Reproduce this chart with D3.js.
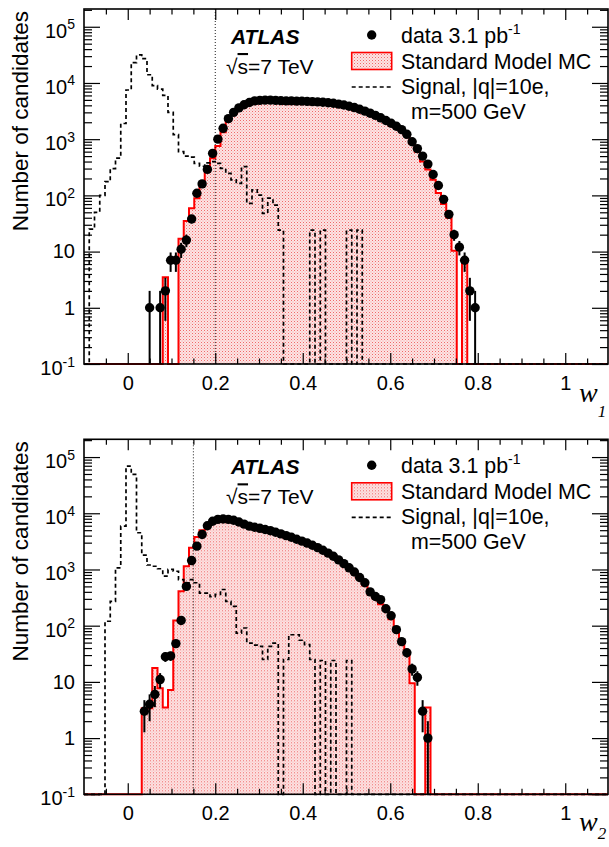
<!DOCTYPE html>
<html>
<head>
<meta charset="utf-8">
<script src="https://cdn.jsdelivr.net/npm/d3@7"></script>
<style>
  body { margin: 0; background: #fff; }
  svg { display: block; }
  text { font-family: "Liberation Sans", Arial, Helvetica, sans-serif; }
  text.wlabel { font-family: "Liberation Serif", "Times New Roman", serif; font-style: italic; }
</style>
</head>
<body>
<div id="chart"></div>
<script>
// binning shared by every histogram: 100 bins from -0.1 to 1.1
const binLow = -0.1, binWidth = 0.012, nBins = 100;

// upper panel, w1 (each array starts at the bin given by *Start)
const w1DataStart = 12;
const w1Data = [1, 0, 1, 2, 7, 7, 11, 16, 38, 109, 160, 290, 560, 1000, 1560, 2320, 3000, 3600,
  4100, 4500, 4800, 4900, 4950, 4950, 4900, 4850, 4800, 4800, 4750, 4750, 4700, 4650, 4600, 4550,
  4450, 4350, 4200, 4050, 3850, 3650, 3400, 3150, 2900, 2650, 2400, 2150, 1920, 1700, 1480, 1220,
  900, 680, 500, 360, 235, 150, 85, 46, 20, 12, 7, 2, 1];
const w1McStart = 15;
const w1Mc = [3.5, 0, 0, 17, 35, 59, 89, 153, 264, 457, 757, 1330, 2100, 2800, 3400, 4000, 4400,
  4700, 4850, 4900, 4900, 4850, 4800, 4750, 4750, 4700, 4700, 4650, 4600, 4550, 4500, 4400, 4300,
  4150, 4000, 3800, 3600, 3350, 3100, 2850, 2600, 2350, 2100, 1850, 1620, 1400, 1150, 830, 600,
  400, 290, 190, 110, 70, 40, 10.4, 0, 6.6];
const w1SigStart = 1;
const w1Sig = [25, 50, 100, 175, 300, 460, 1900, 7500, 23000, 31500, 27000, 14000, 9000, 7800,
  6000, 3000, 1200, 600, 500, 480, 370, 330, 380, 400, 370, 303, 246, 188, 164, 324, 72, 125, 101,
  48, 89, 67, 24, 0, 0, 0, 0, 0, 24, 0, 24, 0, 0, 0, 0, 24, 0, 24];

// lower panel, w2
const w2DataStart = 11;
const w2Data = [3, 4, 6, 11, 28, 29, 48, 124, 500, 1440, 2600, 4200, 6000, 7200, 7800, 7900, 7800,
  7500, 7000, 6400, 5900, 5650, 5400, 5150, 4900, 4600, 4300, 4000, 3750, 3450, 3200, 2950, 2700,
  2450, 2200, 1950, 1720, 1480, 1270, 1070, 900, 720, 580, 400, 330, 290, 200, 150, 85, 52, 33,
  17, 12, 3, 1];
const w2McStart = 11;
const w2Mc = [3.4, 3.4, 17.6, 7.7, 3.5, 7.2, 124, 408, 1140, 2430, 3800, 5000, 6200, 7100, 7600,
  7700, 7600, 7300, 6900, 6300, 5800, 5550, 5300, 5050, 4800, 4500, 4200, 3900, 3650, 3350, 3100,
  2850, 2600, 2350, 2100, 1850, 1650, 1400, 1200, 1020, 860, 680, 520, 370, 300, 240, 190, 130,
  85, 55, 32, 9.5, 0, 0, 3.5];
const w2SigStart = 4;
const w2Sig = [120, 270, 1070, 5900, 69000, 49000, 4500, 1800, 1200, 1140, 1030, 760, 1000, 930,
  660, 580, 660, 580, 380, 380, 330, 360, 440, 270, 220, 74, 91, 49, 45, 43, 25, 43, 49, 0, 25,
  69, 69, 55, 46, 25, 0, 24, 0, 24, 0, 0, 24];

const xTickLabels = [0, 0.2, 0.4, 0.6, 0.8, 1];
const yDecades = [0.1, 1, 10, 100, 1000, 10000, 100000];
const legendLabels = ["data 3.1 pb", "Standard Model MC", "Signal, |q|=10e,", "m=500 GeV"];

const panels = [
  { top: 9, data: [w1DataStart, w1Data], mc: [w1McStart, w1Mc], sig: [w1SigStart, w1Sig],
    cut: 0.2, sub: "1", titleY: 401.5, subDy: 15 },
  { top: 439.3, data: [w2DataStart, w2Data], mc: [w2McStart, w2Mc], sig: [w2SigStart, w2Sig],
    cut: 0.15, sub: "2", titleY: 831, subDy: 8 }
];

const cfg = { left: 84, right: 608, plotH: 355 };

function toBins(start, vals) {
  const out = new Array(nBins).fill(0);
  vals.forEach((v, i) => { out[start + i] = v; });
  return out;
}

const svg = d3.select("#chart").append("svg").attr("width", 609).attr("height", 847);

// pink dotted fill of the MC histogram
const defs = svg.append("defs");
const pat = defs.append("pattern").attr("id", "mcfill")
  .attr("patternUnits", "userSpaceOnUse").attr("width", 3).attr("height", 3);
pat.append("rect").attr("width", 3).attr("height", 3).attr("fill", "#fde4e4");
pat.append("rect").attr("x", 0).attr("y", 0).attr("width", 1).attr("height", 1).attr("fill", "#ee6a6a");
pat.append("rect").attr("x", 1.5).attr("y", 1.5).attr("width", 1).attr("height", 1).attr("fill", "#f4a0a0");
defs.append("clipPath").attr("id", "plotclip").append("rect")
  .attr("x", cfg.left).attr("y", -2).attr("width", cfg.right - cfg.left).attr("height", cfg.plotH + 4);

const x = d3.scaleLinear().domain([binLow, binLow + nBins * binWidth]).range([84, 609]);
const y = d3.scaleLog().domain([0.1, 2.07e5]).range([cfg.plotH, 0]);
const ybot = cfg.plotH;

function stepPoints(vals) {
  const pts = [[x(binLow), ybot]];
  vals.forEach((v, k) => {
    const yy = v > 0 ? Math.min(y(v), ybot) : ybot;
    pts.push([x(binLow + k * binWidth), yy], [x(binLow + (k + 1) * binWidth), yy]);
  });
  pts.push([x(binLow + nBins * binWidth), ybot]);
  return pts;
}

const line = d3.line();

function styleAxis(g) {
  g.select(".domain").remove();
  g.selectAll(".tick line").attr("stroke", "#000").attr("stroke-width", 1.2);
  g.attr("font-family", null).attr("font-size", null);
}

function drawPanel(p) {
  const g = svg.append("g").attr("transform", `translate(0,${p.top})`);
  const plot = g.append("g").attr("clip-path", "url(#plotclip)");

  const mc = toBins(p.mc[0], p.mc[1]);
  const sig = toBins(p.sig[0], p.sig[1]);
  const dat = toBins(p.data[0], p.data[1]);

  // MC: dotted pink fill + red outline
  plot.append("path").attr("d", line(stepPoints(mc)) + "Z")
    .attr("fill", "url(#mcfill)").attr("stroke", "none");
  plot.append("path").attr("d", line(stepPoints(mc)))
    .attr("fill", "none").attr("stroke", "#f00").attr("stroke-width", 2);

  // signal: dashed black outline
  plot.append("path").attr("d", line(stepPoints(sig)))
    .attr("fill", "none").attr("stroke", "#000").attr("stroke-width", 1.7)
    .attr("stroke-dasharray", "4,3");

  // cut line
  plot.append("line").attr("x1", x(p.cut)).attr("x2", x(p.cut)).attr("y1", 0).attr("y2", ybot)
    .attr("stroke", "#000").attr("stroke-width", 0.9).attr("stroke-dasharray", "1,2");

  // data with poisson error bars
  const pts = dat.map((v, k) => ({ v, c: binLow + (k + 0.5) * binWidth })).filter(d => d.v > 0);
  plot.selectAll("line.err").data(pts).enter().append("line").attr("class", "err")
    .attr("x1", d => x(d.c)).attr("x2", d => x(d.c))
    .attr("y1", d => y(d.v + Math.sqrt(d.v)))
    .attr("y2", d => { const lo = d.v - Math.sqrt(d.v); return lo > 0.1 ? y(lo) : ybot; })
    .attr("stroke", "#000").attr("stroke-width", 2);
  plot.selectAll("circle.pt").data(pts).enter().append("circle").attr("class", "pt")
    .attr("cx", d => x(d.c)).attr("cy", d => y(d.v)).attr("r", 4.7).attr("fill", "#000");

  // frame
  g.append("rect").attr("x", cfg.left).attr("y", 0).attr("width", cfg.right - cfg.left)
    .attr("height", cfg.plotH).attr("fill", "none").attr("stroke", "#000").attr("stroke-width", 1.6);

  // x axes
  const xMinor = d3.range(-1, 22).filter(i => i % 4 !== 0).map(i => i * 0.05);
  const gxb = g.append("g").attr("transform", `translate(0,${ybot})`)
    .call(d3.axisBottom(x).tickValues(xTickLabels).tickSizeInner(-11).tickSizeOuter(0)
      .tickPadding(12).tickFormat(d => String(d)));
  styleAxis(gxb);
  gxb.selectAll(".tick text").attr("font-size", "20px").attr("fill", "#000");
  styleAxis(g.append("g").attr("transform", `translate(0,${ybot})`)
    .call(d3.axisBottom(x).tickValues(xMinor).tickSizeInner(-5.5).tickSizeOuter(0).tickFormat("")));
  styleAxis(g.append("g")
    .call(d3.axisTop(x).tickValues(xTickLabels).tickSizeInner(-11).tickSizeOuter(0).tickFormat("")));
  styleAxis(g.append("g")
    .call(d3.axisTop(x).tickValues(xMinor).tickSizeInner(-5.5).tickSizeOuter(0).tickFormat("")));

  // y axes (log)
  const yMinor = [];
  yDecades.forEach(d => { for (let m = 2; m <= 9; m++) if (d * m < 2.07e5) yMinor.push(d * m); });
  const gyl = g.append("g").attr("transform", `translate(${cfg.left},0)`)
    .call(d3.axisLeft(y).tickValues(yDecades).tickSizeInner(-16).tickSizeOuter(0).tickPadding(9));
  styleAxis(gyl);
  gyl.selectAll(".tick text").each(function (d) {
    const n = Math.round(Math.log10(d));
    const t = d3.select(this).text("").attr("font-size", "20px").attr("fill", "#000");
    if (n === 0) t.text("1");
    else if (n === 1) t.text("10");
    else {
      t.attr("dy", "0.52em");
      t.append("tspan").text("10");
      t.append("tspan").attr("dy", "-0.6em").attr("font-size", "14px").text(n);
    }
  });
  styleAxis(g.append("g").attr("transform", `translate(${cfg.left},0)`)
    .call(d3.axisLeft(y).tickValues(yMinor).tickSizeInner(-8).tickSizeOuter(0).tickFormat("")));
  styleAxis(g.append("g").attr("transform", `translate(${cfg.right},0)`)
    .call(d3.axisRight(y).tickValues(yDecades).tickSizeInner(-16).tickSizeOuter(0).tickFormat("")));
  styleAxis(g.append("g").attr("transform", `translate(${cfg.right},0)`)
    .call(d3.axisRight(y).tickValues(yMinor).tickSizeInner(-8).tickSizeOuter(0).tickFormat("")));

  // axis titles
  svg.append("text").attr("transform", `translate(27.5,${p.top + 2}) rotate(-90)`)
    .attr("text-anchor", "end").attr("font-size", "22.5px").text("Number of candidates");
  const xt = svg.append("text").attr("class", "wlabel").attr("x", 579).attr("y", p.titleY);
  xt.append("tspan").attr("font-size", "28px").text("w");
  xt.append("tspan").attr("font-size", "17px").attr("dy", p.subDy).text(p.sub);

  // ATLAS label
  g.append("text").attr("x", 231).attr("y", 35).attr("font-size", "21px")
    .attr("font-weight", "bold").attr("font-style", "italic").text("ATLAS");
  const rs = g.append("text").attr("x", 226).attr("y", 65).attr("font-size", "21px");
  rs.append("tspan").text("\u221A");
  rs.append("tspan").style("text-decoration", "overline").text("s");
  rs.append("tspan").text("=7 TeV");

  // legend
  g.append("circle").attr("cx", 371.7).attr("cy", 26).attr("r", 4.7).attr("fill", "#000");
  const t0 = g.append("text").attr("x", 401).attr("y", 33.5).attr("font-size", "21.4px");
  t0.append("tspan").text(legendLabels[0]);
  t0.append("tspan").attr("dy", -9).attr("font-size", "14px").text("-1");
  g.append("rect").attr("x", 351.7).attr("y", 43.5).attr("width", 40).attr("height", 17)
    .attr("fill", "url(#mcfill)").attr("stroke", "#f00").attr("stroke-width", 1.6);
  g.append("text").attr("x", 401).attr("y", 60).attr("font-size", "21.4px").text(legendLabels[1]);
  g.append("line").attr("x1", 351.7).attr("x2", 391.7).attr("y1", 78).attr("y2", 78)
    .attr("stroke", "#000").attr("stroke-width", 1.7).attr("stroke-dasharray", "4,3");
  g.append("text").attr("x", 401).attr("y", 84.5).attr("font-size", "21.4px").text(legendLabels[2]);
  g.append("text").attr("x", 411).attr("y", 109.5).attr("font-size", "21.4px").text(legendLabels[3]);
}

panels.forEach(drawPanel);
</script>
</body>
</html>
